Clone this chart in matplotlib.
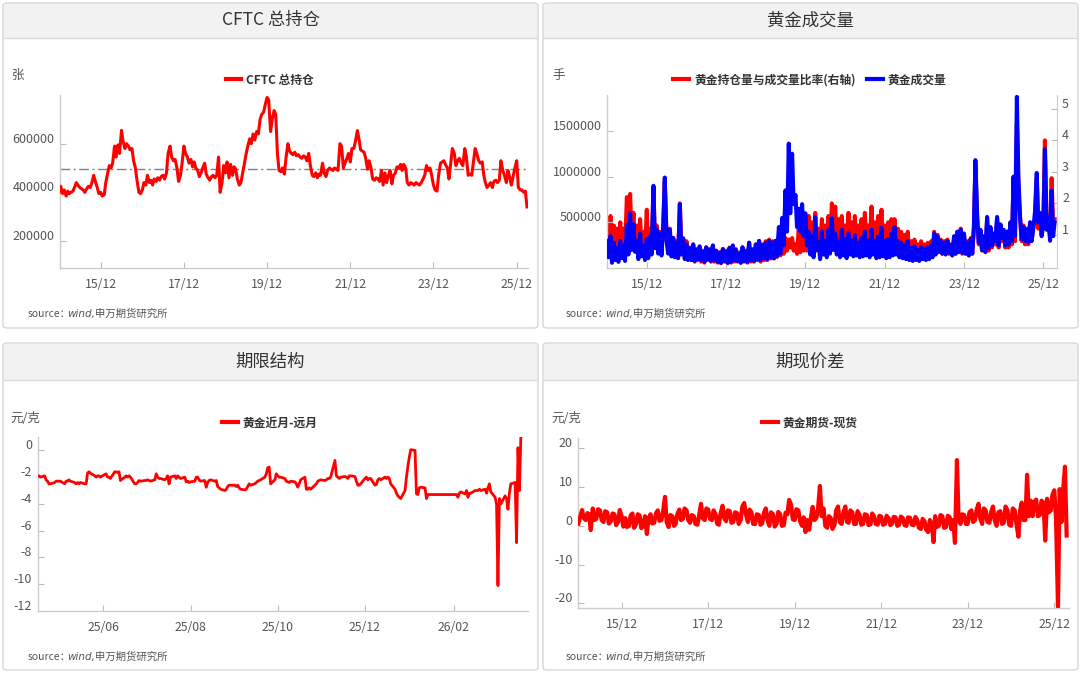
import matplotlib
matplotlib.use('Agg')
import matplotlib.pyplot as plt
import matplotlib.dates as mdates
from matplotlib.patches import FancyBboxPatch, Rectangle
from matplotlib.lines import Line2D
from matplotlib.transforms import ScaledTranslation
from datetime import datetime
import numpy as np
import pandas as pd

plt.rcParams['font.family'] = ['Noto Sans CJK SC', 'DejaVu Sans']

# ---------------- DATA ----------------
# Panel 1: CFTC total open interest (thousand contracts), semi-monthly from 2014-12-01
CFTC_K = [400, 425,
    395, 410, 385, 405, 395, 400, 405, 420, 440, 430, 420, 415, 410, 400, 415, 425, 420, 440, 470, 445, 420, 395,
    400, 385,
    390, 440, 480, 510, 500, 520, 590, 545, 595, 560, 655, 610, 580, 600, 590, 575, 580, 530, 500, 450, 400, 395, 410, 440,
    430, 470, 440, 450, 430, 455, 445, 460, 450, 465, 470, 455, 480, 560, 590, 545, 530, 535, 500, 445, 470, 520, 590, 560,
    545, 520, 535, 505, 525, 500, 490, 465, 480, 500, 520, 475, 460, 450, 465, 470, 460, 470, 545, 400, 440, 510, 480, 525,
    460, 515, 470, 505, 495, 455, 430, 440, 480, 515, 560, 590, 620, 600, 640, 615, 650, 640, 700, 720, 730, 760, 790, 780,
    650, 700, 736, 720, 560, 490, 485, 500, 475, 540, 600, 570, 560, 555, 565, 550, 555, 545, 540, 550, 545, 530, 560, 510,
    470, 465, 480, 460, 475, 470, 520, 480, 465, 490, 500, 495, 490, 500, 495, 490, 600, 590, 500, 520, 540, 560, 525, 580,
    580, 610, 654, 620, 575, 570, 565, 540, 495, 530, 500, 455, 450, 460, 455, 445, 490, 430, 480, 440, 470, 490, 435, 470,
    480, 505, 500, 515, 490, 515, 500, 440, 430, 440, 435, 430, 440, 435, 430, 440, 455, 470, 510, 490, 500, 470, 430, 410,
    405, 470, 520, 525, 530, 515, 500, 455, 520, 580, 560, 510, 530, 540, 520, 510, 580, 545, 470, 475, 470, 520, 580, 560,
    530, 520, 525, 470, 440, 420, 430, 440, 420, 445, 450, 440, 450, 530, 490, 470, 440, 490, 460, 430, 470, 500, 530, 420,
    410, 410, 400, 405, 340]
CFTC_MEAN = 498000
CFTC_YTICKS = [200000, 400000, 600000]

# Panel 2: gold volume (thousand lots) and OI/volume ratio, semi-monthly from 2014-12-01
VOLUME_K = [300, 120,
    350, 60, 280, 90, 220, 70, 300, 110, 250, 80, 470, 150, 600, 200, 480, 180, 300, 100, 380, 130, 250, 90, 320, 110,
    350, 150, 900, 220, 420, 160, 380, 140, 460, 990, 300, 160, 420, 130, 330, 120, 280, 110, 700, 150, 320, 100, 260, 90,
    220, 90, 260, 80, 200, 100, 240, 90, 180, 70, 230, 100, 200, 80, 250, 90, 190, 70, 170, 60, 210, 80, 180, 60,
    220, 70, 250, 90, 200, 80, 160, 60, 230, 80, 180, 70, 280, 90, 200, 80, 260, 100, 300, 90, 250, 110, 280, 100,
    300, 120, 280, 110, 300, 130, 450, 160, 550, 250, 850, 400, 1360, 600, 1250, 700, 800, 450, 650, 400, 700, 350, 600, 250,
    400, 150, 350, 120, 560, 200, 280, 100, 400, 150, 300, 120, 420, 160, 550, 200, 380, 150, 300, 120, 420, 140, 320, 110,
    380, 150, 300, 130, 360, 140, 280, 120, 330, 130, 400, 140, 300, 120, 420, 150, 300, 110, 350, 120, 440, 130, 300, 110,
    320, 120, 380, 140, 450, 150, 300, 120, 280, 110, 250, 100, 300, 90, 220, 80, 240, 90, 200, 80, 230, 100, 210, 90,
    230, 100, 250, 120, 380, 150, 350, 180, 300, 160, 280, 150, 300, 170, 250, 140, 350, 160, 400, 180, 420, 170, 380, 160,
    280, 140, 320, 160, 450, 1180, 550, 280, 420, 200, 350, 180, 560, 220, 450, 250, 380, 300, 560, 250, 480, 330, 420, 250,
    400, 260, 500, 300, 1000, 350, 1870, 1000, 550, 320, 450, 300, 420, 280, 500, 300, 450, 620, 1040, 500, 600, 350, 480, 1300,
    420, 550, 300, 850, 350, 500]
RATIO = [1.5, 0.6,
    1.6, 0.4, 1.3, 0.5, 1.2, 0.4, 1.4, 0.5, 1.2, 0.6, 2.2, 0.7, 2.3, 0.8, 1.7, 0.6, 1.3, 0.5, 1.5, 0.6, 1.1, 0.4, 1.8, 0.5,
    1.2, 0.5, 2.5, 0.6, 1.3, 0.5, 1.1, 0.4, 1.3, 2.7, 0.9, 0.5, 1.2, 0.4, 0.9, 0.35, 0.8, 0.3, 2.0, 0.4, 0.9, 0.3, 0.8, 0.25,
    0.6, 0.2, 0.7, 0.15, 0.55, 0.2, 0.6, 0.15, 0.5, 0.12, 0.6, 0.2, 0.55, 0.15, 0.65, 0.15, 0.5, 0.12, 0.45, 0.1, 0.55, 0.15, 0.5, 0.1,
    0.6, 0.12, 0.65, 0.15, 0.55, 0.15, 0.45, 0.12, 0.6, 0.15, 0.5, 0.12, 0.75, 0.15, 0.55, 0.15, 0.7, 0.2, 0.8, 0.15, 0.7, 0.2, 0.8, 0.2,
    0.85, 0.25, 0.8, 0.25, 0.8, 0.3, 1.0, 0.35, 1.0, 0.4, 0.9, 0.5, 0.85, 0.6, 0.9, 0.5, 0.7, 0.4, 1.2, 0.45, 1.5, 0.5, 1.5, 0.5,
    1.6, 0.5, 1.4, 0.4, 1.7, 0.5, 1.2, 0.4, 1.5, 0.5, 1.3, 0.5, 1.6, 0.6, 2.0, 0.7, 1.9, 0.6, 1.5, 0.5, 1.6, 0.5, 1.3, 0.5,
    1.7, 0.6, 1.4, 0.5, 1.6, 0.5, 1.3, 0.5, 1.5, 0.5, 1.7, 0.6, 1.3, 0.5, 1.9, 0.6, 1.4, 0.4, 1.6, 0.5, 1.8, 0.5, 1.3, 0.4,
    1.4, 0.5, 1.5, 0.5, 1.5, 0.5, 1.2, 0.4, 1.1, 0.4, 1.0, 0.35, 1.1, 0.3, 0.8, 0.3, 0.85, 0.3, 0.7, 0.25, 0.8, 0.3, 0.7, 0.3,
    0.75, 0.3, 0.8, 0.35, 1.1, 0.4, 1.0, 0.45, 0.85, 0.4, 0.8, 0.4, 0.85, 0.4, 0.7, 0.35, 0.95, 0.4, 1.1, 0.45, 1.2, 0.4, 1.0, 0.4,
    0.8, 0.35, 0.9, 0.4, 1.2, 3.2, 1.5, 0.7, 1.1, 0.5, 0.9, 0.45, 1.5, 0.5, 1.2, 0.6, 1.0, 0.7, 1.5, 0.6, 1.3, 0.8, 1.1, 0.6,
    1.1, 0.6, 1.4, 0.7, 2.8, 0.8, 4.5, 2.5, 1.5, 0.8, 1.3, 0.7, 1.2, 0.7, 1.4, 0.8, 1.3, 1.5, 2.8, 1.2, 1.7, 1.0, 1.4, 4.0,
    1.2, 1.6, 0.9, 2.8, 1.2, 1.5]
VOL_YTICKS = [500000, 1000000, 1500000]
RATIO_YTICKS = [1, 2, 3, 4, 5]

# Panel 3: gold near-month minus far-month (yuan/g), business days from 2025-04-16
SPREAD_NF = [
    -1.9, -1.9, -2.0, -1.9, -2.2, -2.3, -2.5, -2.5, -2.4, -2.3, -2.3,
    -2.3, -2.3, -2.5, -2.3, -2.3, -2.2, -2.3, -2.4, -2.5, -2.4, -2.5, -2.4, -2.5, -2.5, -1.7, -1.6, -1.7, -1.9, -2.0, -1.9, -1.9, -2.0,
    -1.8, -1.75, -2.0, -2.0, -2.1, -1.6, -1.6, -1.65, -1.6, -2.25, -2.0, -1.9, -2.0, -1.9, -2.0, -2.5, -2.5, -2.4, -2.25, -2.3, -2.25,
    -2.25, -2.2, -2.25, -2.3, -2.2, -1.75, -2.0, -2.1, -2.1, -2.2, -2.1, -1.9, -2.5, -2.0, -1.9, -2.1, -1.9, -2.0, -2.1, -2.0, -2.35, -2.3, -2.4,
    -2.35, -2.3, -2.0, -2.0, -2.2, -2.3, -2.25, -2.75, -2.4, -2.25, -2.2, -2.3, -2.25, -2.7, -2.8, -2.9, -3.0, -2.9, -2.7, -2.6, -2.6,
    -2.6, -2.7, -2.6, -2.8, -2.9, -2.95, -2.9, -2.7, -2.5, -2.6, -2.5, -2.4, -2.3, -2.25, -2.2, -2.0, -1.75, -1.3, -1.25, -2.5, -2.2, -1.75,
    -1.9, -2.0, -2.0, -2.1, -2.3, -2.35, -2.4, -2.3, -2.35, -2.5, -2.75, -2.5, -2.2, -2.0, -2.9, -2.9, -2.8, -2.9, -2.6, -2.5, -2.3, -2.25, -2.2,
    -2.25, -2.2, -2.1, -2.1, -2.0, -0.75, -1.9, -2.0, -2.1, -2.0, -1.95, -2.0, -2.1, -1.9, -1.9, -1.95, -2.3, -2.6, -2.6, -2.5,
    -2.1, -2.0, -2.2, -2.1, -2.1, -2.6, -2.55, -2.2, -2.1, -2.2, -2.0, -2.1, -2.0, -2.1, -2.5, -2.9, -3.2, -3.4, -3.5, -3.6, -3.0, -2.0, -1.2,
    -0.5, 0.05, 0.0, -3.25, -3.3, -2.8, -2.75, -2.8, -3.6, -3.3, -3.3, -3.3, -3.3, -3.3, -3.3, -3.3, -3.3, -3.3, -3.3, -3.3, -3.3, -3.3,
    -3.3, -3.3, -3.5, -3.2, -3.1, -3.25, -3.0, -3.5, -3.2, -3.2, -3.0, -3.0, -3.0, -2.9, -3.0, -2.9, -3.2, -2.8, -2.5, -3.1,
    -3.5, -4.0, -10.1, -3.6, -4.0, -3.4, -3.6, -4.4, -3.2, -2.5, -2.4, -6.9, 0.2, -3.0, 1.0]
NF_YTICKS = [0, -2, -4, -6, -8, -10, -12]

# Panel 4: gold futures minus spot (yuan/g), semi-monthly from 2014-12-01
BASIS = [0.6, 2.3,
    4.1, 2.0, 1.5, 3.3, 3.0, -1.1, 4.5, 1.5, 1.8, 4.3, 4.0, 1.5, 1.0, 3.8, 3.5, 0.6, 1.2, 3.2, 3.0, 0.2, 1.0, 4.1, 2.5, -0.2,
    2.0, -0.3, 0.0, 2.7, 3.2, -0.5, 0.5, 3.0, 2.7, -0.6, 0.0, 2.5, -2.1, 2.0, 3.0, 0.6, 0.8, 3.2, 4.0, 1.3, 1.5, 3.8, 7.5, 1.0,
    -0.3, 2.8, 2.5, 0.0, 0.5, 3.0, 4.2, 1.5, 1.8, 4.5, 4.0, 1.5, 0.8, 2.8, 2.5, 0.5, 0.3, 2.7, 5.7, 2.0, 1.5, 4.5, 4.2, 1.8,
    1.5, 4.0, 3.0, 0.5, 0.3, 3.2, 5.2, 2.0, 1.2, 4.0, 3.8, 0.8, 1.0, 3.5, 3.3, 0.5, 1.5, 5.0, 5.9, 3.0, 1.0, 4.2, 3.5, 0.5,
    0.5, 3.0, 2.8, 0.3, 0.6, 3.2, 4.5, 1.5, 0.0, 3.5, 3.0, -0.2, 0.5, 3.6, 3.0, 0.0, 0.2, 3.4, 3.0, 6.7, 5.4, 1.7, 1.5, 4.3,
    4.0, 1.2, 0.0, 2.2, -1.6, 1.5, -1.0, 2.0, 4.9, 1.5, 2.0, 4.5, 10.3, 2.5, 4.5, 0.0, -0.5, 2.5, 2.0, -0.8, 0.2, 4.0, 5.0, 1.0,
    0.5, 3.5, 5.0, 1.0, 0.8, 4.0, 3.5, 0.5, 0.5, 3.8, 2.8, 0.3, 0.5, 3.0, 2.8, 0.2, 0.4, 3.2, 2.5, 0.5, 0.3, 2.6, 2.4, 0.3,
    0.5, 2.6, 2.0, 0.2, 0.5, 2.3, 2.2, 0.0, 0.3, 2.4, 2.0, 0.2, 0.0, 2.2, 2.1, 0.3, 0.2, 2.3, 1.5, -0.5, -0.8, 1.8, 1.2, -1.0,
    -1.6, 1.5, 0.5, -4.2, 2.5, -0.3, 0.0, 2.8, 2.5, -0.5, -0.3, 2.6, 2.3, -0.8, 1.5, -4.4, 17.0, 1.5, 0.5, 3.0, 2.8, 0.5, 0.5, 3.5,
    4.0, 1.0, 1.5, 4.3, 5.7, 2.0, 0.5, 4.5, 4.0, 1.0, 0.8, 3.5, 5.0, 1.5, 0.0, 3.5, 3.8, 0.5, 0.8, 5.0, 4.0, 0.3, 0.0, 4.5,
    4.0, 0.5, -2.8, 4.0, 6.0, 1.5, 1.5, 13.2, 2.5, 6.5, 2.5, 6.2, 6.8, 2.5, 2.8, 6.5, 6.0, -3.8, 7.0, 3.5, 4.0, 8.0, 9.2, 2.0,
    -20.9, 9.5, 1.0, 10.0, 15.3, -2.5]
BASIS_YTICKS = [-20, -10, 0, 10, 20]

LONG_XTICKS = [datetime(y, 12, 1) for y in (2015, 2017, 2019, 2021, 2023, 2025)]
SHORT_XTICKS = [datetime(2025, 6, 1), datetime(2025, 8, 1), datetime(2025, 10, 1),
                datetime(2025, 12, 1), datetime(2026, 2, 1)]

# ---------------- FIGURE ----------------
W, H = 1080, 677
fig = plt.figure(figsize=(W / 100, H / 100), dpi=100)
fig.patch.set_facecolor('white')

def fx(px):
    return px / W

def fy(py):
    return 1 - py / H

TXT = '#333333'
LBL = '#555555'
SPINE = '#cccccc'
RED = '#ff0000'
BLUE = '#0000ff'


def card(l, t, r, b, hb, title):
    fig.add_artist(FancyBboxPatch((fx(l), fy(b)), fx(r - l), (b - t) / H,
                                  boxstyle='round,pad=0,rounding_size=0.004',
                                  transform=fig.transFigure, fc='white', ec='#d6d6d6', lw=1.0, zorder=0))
    fig.add_artist(Rectangle((fx(l + 1), fy(hb)), fx(r - l - 2), (hb - t - 1) / H,
                             transform=fig.transFigure, fc='#f2f2f2', ec='none', zorder=0.5))
    fig.add_artist(Line2D([fx(l + 1), fx(r - 1)], [fy(hb), fy(hb)], transform=fig.transFigure,
                          color='#dadada', lw=1.0, zorder=0.6))
    fig.text(fx((l + r) / 2), fy((t + hb) / 2), title, ha='center', va='center',
             fontsize=12.5, color=TXT)


def source(x, y):
    fig.text(fx(x), fy(y), 'source：', fontsize=7.5, color=LBL, va='center', ha='left')
    fig.text(fx(x + 39), fy(y), 'wind,申万期货研究所', fontsize=7.5, color=LBL,
             va='center', ha='left', style='italic',
             family=['DejaVu Sans', 'Noto Sans CJK SC'])


def make_axes(l, t, r, b):
    ax = fig.add_axes([fx(l), fy(b), fx(r - l), (b - t) / H])
    ax.set_facecolor('none')
    for s in ('top', 'right'):
        ax.spines[s].set_visible(False)
    for s in ('left', 'bottom'):
        ax.spines[s].set_color(SPINE)
        ax.spines[s].set_linewidth(1.0)
    ax.tick_params(direction='in', length=4, color='#bbbbbb', labelsize=9, labelcolor=LBL)
    ax.tick_params(axis='x', pad=7, labelsize=8.8)
    ax.tick_params(axis='y', pad=4)
    return ax


def legend(handles, labels, cx, cy):
    fig.legend(handles, labels, loc='center', bbox_to_anchor=(fx(cx), fy(cy)),
               bbox_transform=fig.transFigure, ncol=len(handles), frameon=False,
               prop={'weight': 'bold', 'size': 8.5}, handlelength=1.3, handletextpad=0.45,
               columnspacing=1.0, labelcolor=TXT)


def unit(x, y, s):
    fig.text(fx(x), fy(y), s, fontsize=9, color=LBL, ha='left', va='center')


def shift_ylabels(ax):
    off = ScaledTranslation(0, 6 / 100, fig.dpi_scale_trans)
    for lab in ax.yaxis.get_ticklabels():
        lab.set_transform(lab.get_transform() + off)


# cards
card(3, 3, 538, 328, 38, 'CFTC 总持仓')
card(543, 3, 1078, 328, 38, '黄金成交量')
card(3, 343, 538, 670, 380, '期限结构')
card(543, 343, 1078, 670, 380, '期现价差')

# ---- Panel 1 ----
ax1 = make_axes(60, 95, 528, 268.3)
d1 = pd.date_range('2014-12-01', periods=len(CFTC_K), freq='SMS')
ax1.plot(d1, np.array(CFTC_K) * 1000, color=RED, lw=2.2, zorder=3)
ax1.axhline(CFTC_MEAN, color='#808080', lw=1.0, ls=(0, (7, 2.5, 1.5, 2.5)), zorder=2)
ax1.set_ylim(88000, 800000)
ax1.set_xlim(datetime(2014, 12, 9), datetime(2026, 3, 10))
ax1.set_yticks(CFTC_YTICKS, labels=[str(v) for v in CFTC_YTICKS])
ax1.set_xticks(LONG_XTICKS)
ax1.xaxis.set_major_formatter(mdates.DateFormatter('%y/%m'))
legend([Line2D([], [], color=RED, lw=3)], ['CFTC 总持仓'], 270, 80)
unit(12, 75, '张')
source(28, 314)

# ---- Panel 2 ----
ax2 = make_axes(607, 95, 1056.5, 268.3)
ax2r = ax2.twinx()
ax2r.set_facecolor('none')
for s in ('top', 'left', 'bottom'):
    ax2r.spines[s].set_visible(False)
ax2r.spines['right'].set_color(SPINE)
ax2r.tick_params(direction='in', length=4, color='#bbbbbb', labelsize=9, labelcolor=LBL, pad=4)
d2 = pd.date_range('2014-12-01', periods=len(VOLUME_K), freq='SMS')
ax2r.plot(d2, RATIO, color=RED, lw=2.9, zorder=2)
ax2.plot(d2, np.array(VOLUME_K) * 1000, color=BLUE, lw=2.9, zorder=3)
ax2.set_zorder(ax2r.get_zorder() + 1)
ax2.patch.set_visible(False)
ax2.set_ylim(0, 1890000)
ax2r.set_ylim(-0.06, 5.44)
ax2.set_xlim(datetime(2014, 11, 30), datetime(2026, 4, 1))
ax2.set_yticks(VOL_YTICKS, labels=[str(v) for v in VOL_YTICKS])
ax2r.set_yticks(RATIO_YTICKS, labels=[str(v) for v in RATIO_YTICKS])
ax2.set_xticks(LONG_XTICKS)
ax2.xaxis.set_major_formatter(mdates.DateFormatter('%y/%m'))
legend([Line2D([], [], color=RED, lw=3), Line2D([], [], color=BLUE, lw=3)],
       ['黄金持仓量与成交量比率(右轴)', '黄金成交量'], 810, 80)
unit(552, 75, '手')
source(566, 314)

# ---- Panel 3 ----
ax3 = make_axes(37.5, 437, 528, 611)
d3 = pd.bdate_range('2025-04-16', periods=len(SPREAD_NF))
ax3.plot(d3, SPREAD_NF, color=RED, lw=2.0, zorder=3)
ax3.set_ylim(-12, 1.0)
ax3.set_xlim(datetime(2025, 4, 16), datetime(2026, 3, 25))
ax3.set_yticks(NF_YTICKS, labels=[str(v) for v in NF_YTICKS])
ax3.set_xticks(SHORT_XTICKS)
ax3.xaxis.set_major_formatter(mdates.DateFormatter('%y/%m'))
legend([Line2D([], [], color=RED, lw=3)], ['黄金近月-远月'], 270, 423)
unit(10, 418, '元/克')
source(28, 657)

# ---- Panel 4 ----
ax4 = make_axes(578.3, 438, 1069, 608.3)
d4 = pd.date_range('2014-12-01', periods=len(BASIS), freq='SMS')
ax4.plot(d4, BASIS, color=RED, lw=3.0, zorder=3)
ax4.set_ylim(-21.3, 22.7)
ax4.set_xlim(datetime(2014, 11, 30), datetime(2026, 4, 4))
ax4.set_yticks(BASIS_YTICKS, labels=[str(v) for v in BASIS_YTICKS])
ax4.set_xticks(LONG_XTICKS)
ax4.xaxis.set_major_formatter(mdates.DateFormatter('%y/%m'))
legend([Line2D([], [], color=RED, lw=3)], ['黄金期货-现货'], 810, 423)
unit(551, 418, '元/克')
source(566, 657)

for a in (ax1, ax2, ax2r, ax3, ax4):
    shift_ylabels(a)

fig.savefig('out.png', dpi=100, facecolor='white')
